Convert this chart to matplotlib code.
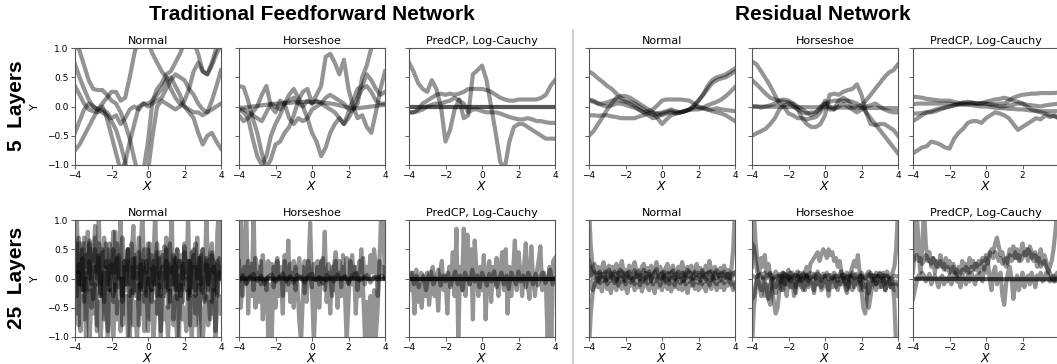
import numpy as np
import matplotlib
matplotlib.use('Agg')
import matplotlib.pyplot as plt
from matplotlib.lines import Line2D

# ---- prior function samples (x runs -4..4, evenly spaced) ----

# Traditional feedforward, 5 layers
ffn5_a = [0.72, 0.5, 0.3, 0.12, 0.0, -0.05, -0.1, -0.15, -0.25, -0.4, -0.65, -0.95, -1.3, -1.5, -1.4, -1.1, -0.6,
          0.1, 0.3, 0.4, 0.55, 0.6, 0.75, 0.9, 1.1, 1.2, 1.1, 0.9, 0.6, 0.55, 0.75, 1.0, 1.2]
ffn5_b = [0.35, 0.2, 0.05, -0.05, -0.08, -0.1, -0.05, -0.1, -0.2, -0.15, -0.3, -0.2, -0.05, 0.0, -0.05, 0.05, 0.05,
          0.1, 0.2, 0.3, 0.45, 0.5, 0.35, 0.2, 0.0, -0.1, -0.2, -0.45, -0.65, -0.5, -0.45, -0.6, -0.72]
ffn5_c = [-0.75, -0.65, -0.5, -0.35, -0.2, -0.05, 0.05, 0.15, 0.25, 0.25, 0.1, 0.15, 0.5, 0.9, 1.2, 1.3, 1.1,
          0.9, 0.75, 0.6, 0.5, 0.3, 0.15, 0.05, 0.0, -0.05, -0.1, -0.1, -0.15, -0.1, 0.1, 0.35, 0.62]
ffn5_d = [1.1, 0.95, 0.7, 0.45, 0.3, 0.28, 0.28, 0.2, 0.1, 0.05, -0.1, -0.3, -0.55, -0.9, -1.2, -1.3, -1.1,
          -0.5, 0.0, 0.1, 0.05, 0.0, -0.05, 0.0, 0.1, 0.3, 0.6, 0.75, 0.6, 0.55, 0.7, 0.9, 1.05]
ffn5_e = [-0.45, -0.25, -0.05, 0.05, 0.0, -0.05, 0.0, -0.2, -0.5, -0.8, -1.1, -0.95, -0.6, -0.3, 0.0, 0.05, 0.0,
          0.05, 0.1, 0.15, 0.3, 0.45, 0.55, 0.5, 0.45, 0.3, 0.2, 0.05, -0.05, -0.1, -0.05, 0.0, 0.05]

ffh5_a = [-0.02, -0.02, -0.01, 0.0, 0.01, 0.02, 0.03, 0.04, 0.05, 0.05, 0.06, 0.06, 0.07, 0.07, 0.08, 0.08, 0.08,
          0.08, 0.07, 0.06, 0.05, 0.04, 0.02, 0.0, -0.02, -0.03, -0.03, -0.02, -0.01, 0.0, 0.01, 0.02, 0.03]
ffh5_b = [0.35, 0.33, 0.1, -0.2, -0.45, -0.8, -1.05, -0.9, -0.65, -0.6, -0.45, -0.35, -0.15, 0.1, 0.25, 0.3, 0.05,
          0.2, 0.35, 0.85, 0.9, 0.75, 0.55, 0.8, 0.3, 0.0, -0.2, -0.15, -0.35, -0.45, -0.1, 0.3, 0.6]
ffh5_c = [-0.15, -0.25, -0.2, -0.1, 0.0, 0.2, 0.35, 0.0, -0.1, 0.1, 0.05, -0.2, -0.3, -0.2, -0.25, -0.2, -0.05,
          0.0, 0.05, 0.15, 0.2, 0.15, 0.1, 0.05, -0.05, 0.1, 0.3, 0.35, 0.55, 0.45, 0.3, 0.2, 0.25]
ffh5_d = [-0.05, -0.1, -0.2, -0.55, -0.85, -1.0, -0.85, -0.5, -0.3, -0.15, 0.05, 0.2, 0.3, 0.15, 0.0, -0.2, -0.45,
          -0.6, -0.85, -0.7, -0.45, -0.3, -0.2, -0.3, -0.2, -0.05, 0.05, 0.5, 0.7, 1.0, 1.2, 1.2, 1.2]
ffh5_e = [-0.05, -0.05, -0.1, -0.15, -0.2, -0.25, -0.1, 0.05, 0.0, -0.05, 0.05, 0.1, 0.15, 0.05, 0.0, 0.1, 0.05,
          0.1, 0.05, 0.0, -0.05, -0.1, -0.2, -0.3, -0.1, -0.05, 0.15, 0.3, 0.35, 0.25, 0.1, 0.05, 0.05]

ffp5_a = [0.75, 0.6, 0.4, 0.3, 0.25, 0.45, 0.3, 0.0, -0.6, -0.4, -0.05, 0.12, -0.2, -0.15, 0.55, 0.62, 0.7,
          0.45, 0.0, -0.45, -0.95, -1.05, -0.6, -0.35, -0.3, -0.3, -0.35, -0.4, -0.45, -0.5, -0.55, -0.55, -0.55]
ffp5_b = [-0.1, -0.1, -0.05, 0.05, 0.1, 0.15, 0.2, 0.22, 0.2, 0.22, 0.2, 0.22, 0.25, 0.3, 0.3, 0.3, 0.3,
          0.28, 0.25, 0.2, 0.15, 0.12, 0.1, 0.1, 0.12, 0.12, 0.12, 0.12, 0.12, 0.15, 0.2, 0.35, 0.45]
ffp5_c = [-0.1, -0.1, -0.08, -0.05, 0.0, 0.03, 0.05, 0.05, 0.08, 0.1, 0.15, 0.1, 0.05, -0.1, -0.05, -0.05, -0.08,
          -0.1, -0.1, -0.1, -0.12, -0.15, -0.18, -0.2, -0.22, -0.22, -0.2, -0.22, -0.25, -0.25, -0.27, -0.28, -0.28]
ffp5_d = [0.0, 0.0]
ffp5_e = [0.0, 0.0]

# Residual network, 5 layers
rn5_a = [0.6, 0.55, 0.48, 0.42, 0.35, 0.3, 0.22, 0.15, 0.1, 0.08, 0.05, 0.0, -0.05, -0.1, -0.15, -0.12, -0.1,
         -0.08, -0.05, -0.08, -0.1, -0.08, -0.05, 0.02, 0.1, 0.2, 0.3, 0.4, 0.45, 0.48, 0.5, 0.55, 0.6]
rn5_b = [-0.5, -0.42, -0.3, -0.18, -0.05, 0.05, 0.15, 0.18, 0.18, 0.15, 0.1, 0.05, 0.0, -0.05, -0.1, -0.12, -0.15,
         -0.12, -0.1, -0.12, -0.1, -0.08, -0.05, 0.0, 0.1, 0.2, 0.35, 0.45, 0.5, 0.52, 0.55, 0.6, 0.65]
rn5_c = [-0.15, -0.15, -0.16, -0.15, -0.15, -0.17, -0.18, -0.2, -0.2, -0.2, -0.2, -0.17, -0.15, -0.12, -0.1, -0.2,
         -0.3, -0.22, -0.15, -0.12, -0.1, -0.08, -0.06, -0.05, -0.05, -0.02, 0.02, 0.05, 0.08, 0.12, 0.18, 0.25, 0.33]
rn5_d = [0.12, 0.1, 0.05, 0.02, 0.0, 0.02, 0.05, 0.05, 0.03, 0.0, -0.02, -0.06, -0.1, -0.08, -0.05, 0.02, 0.1,
         0.12, 0.12, 0.12, 0.12, 0.11, 0.1, 0.05, -0.02, -0.04, -0.05, -0.08, -0.1, -0.12, -0.15, -0.2, -0.25]
rn5_e = [0.1, 0.08, 0.05, 0.05, 0.07, 0.1, 0.12, 0.1, 0.08, 0.05, 0.0, -0.05, -0.1, -0.15, -0.2, -0.18, -0.12,
         -0.1, -0.08, -0.1, -0.1, -0.08, -0.05, -0.02, 0.0, -0.02, -0.05, -0.05, -0.03, -0.05, -0.06, -0.07, -0.08]

rh5_a = [0.77, 0.72, 0.6, 0.48, 0.35, 0.2, 0.05, 0.0, -0.12, -0.15, -0.2, -0.2, -0.22, -0.2, -0.18, -0.1, 0.05,
         -0.05, -0.05, 0.1, 0.15, 0.1, 0.0, 0.0, 0.02, 0.1, 0.2, 0.3, 0.4, 0.5, 0.58, 0.62, 0.72]
rh5_b = [0.45, 0.38, 0.3, 0.22, 0.15, 0.12, 0.1, 0.08, 0.07, 0.0, -0.05, -0.1, -0.12, -0.1, -0.1, 0.0, 0.05,
         0.08, 0.1, 0.1, 0.1, 0.1, 0.08, 0.05, 0.0, -0.1, -0.2, -0.3, -0.4, -0.5, -0.6, -0.7, -0.8]
rh5_c = [0.0, -0.03]
rh5_d = [-0.5, -0.46, -0.42, -0.38, -0.3, -0.2, -0.05, 0.02, 0.05, 0.05, -0.05, -0.2, -0.3, -0.35, -0.35, -0.3,
         -0.15, 0.2, 0.22, 0.2, 0.25, 0.28, 0.3, 0.38, 0.2, -0.1, -0.3, -0.32, -0.3, -0.3, -0.35, -0.4, -0.5]
rh5_e = [0.0, 0.0, -0.02, 0.0, 0.02, 0.05, 0.1, 0.12, 0.1, 0.05, 0.0, -0.05, -0.1, -0.15, -0.1, -0.05, 0.1,
         0.0, -0.05, 0.0, 0.05, 0.0, -0.05, -0.1, -0.05, 0.0, 0.02, 0.05, 0.0, -0.05, -0.08, -0.1, -0.1]

rp5_a = [-0.8, -0.75, -0.7, -0.68, -0.6, -0.62, -0.65, -0.7, -0.72, -0.55, -0.45, -0.38, -0.28, -0.25, -0.25, -0.28,
         -0.2, -0.15, -0.1, -0.12, -0.15, -0.2, -0.3, -0.4, -0.35, -0.3, -0.25, -0.2, -0.22, -0.15, -0.18, -0.15, -0.2]
rp5_b = [0.17, 0.16, 0.15, 0.13, 0.12, 0.11, 0.1, 0.1, 0.1, 0.08, 0.06, 0.05, 0.05, 0.06, 0.05, 0.05, 0.05,
         0.04, 0.04, 0.05, 0.05, 0.1, 0.15, 0.18, 0.2, 0.21, 0.22, 0.22, 0.23, 0.23, 0.23, 0.23, 0.24]
rp5_c = [0.04, 0.05, 0.05, 0.05, 0.05, 0.05, 0.05, 0.05, 0.05, 0.04, 0.04, 0.03, 0.03, 0.02, 0.01, 0.0, 0.0,
         -0.01, -0.02, -0.03, -0.03, -0.04, -0.04, -0.05, -0.05, -0.06, -0.07, -0.07, -0.08, -0.08, -0.08, -0.08, -0.08]
rp5_d = [-0.25, -0.2, -0.15, -0.1, -0.08, -0.05, -0.03, -0.02, 0.0, 0.02, 0.03, 0.05, 0.05, 0.05, 0.05, 0.05, 0.05,
         0.03, 0.02, 0.0, 0.0, 0.02, 0.03, 0.05, 0.05, 0.0, -0.05, -0.08, -0.1, -0.12, -0.15, -0.17, -0.2]
rp5_e = [-0.12, -0.12, -0.11, -0.1, -0.1, -0.08, -0.05, -0.02, 0.0, 0.02, 0.05, 0.07, 0.08, 0.07, 0.05, 0.06, 0.08,
         0.1, 0.12, 0.13, 0.15, 0.13, 0.1, 0.08, 0.05, 0.03, 0.02, 0.01, 0.0, 0.02, 0.03, 0.04, 0.05]

# Traditional feedforward, 25 layers
ffn25_a = [0.3, 1.2, -0.8, 0.6, -0.2, 0.7, -1.1, 0.2, 0.65, -0.5, 0.1, 0.7, -0.9, 1.2, -0.3, 0.5, -0.7, 0.2, -1.1,
           0.6, 0.3, -0.4, 0.8, -0.6, 0.1, 1.2, -0.8, 0.3, -0.2, 0.5, -1.1, 0.4, 0.9, -0.3, 0.2, -0.8, 0.5, 1.2,
           -0.4, 0.1, -0.9, 0.6, -0.2, 0.3, 1.2, -0.6, 0.1, -1.1, 0.4, -0.3, 0.7, -0.5, 0.2, 1.2, -0.7, 0.0, 0.5,
           -1.0, 0.3, -0.4, 0.6, -0.2, 1.2, -0.8, 0.1, 0.4, -0.6, 0.7, -1.1, 0.3, 0.5, -0.4, 1.2, -0.2, -0.7, 0.4,
           0.2, -1.1, 0.8, 1.2, 0.0]
ffn25_b = [0.2, 0.6, -0.1, 0.3, 0.5, -0.2, 0.4, 0.1, 0.6, -0.1, 0.3, 0.5, 0.0, 0.35, -0.3, 0.45, 0.2, 0.6, -0.1,
           0.3, 0.1, 0.5, -0.2, 0.25, 0.4, 0.05, -0.3, 0.3, 0.15, 0.5, -0.1, 0.2, -0.25, 0.35, 0.0, 0.45, -0.15,
           0.3, 0.1, -0.3, 0.5, 0.05, -0.2, 0.3, -0.1, 0.45, 0.1, -0.3, 0.2, 0.0, 0.5, -0.2, 0.25, -0.1, 0.4, 0.05,
           -0.35, 0.3, 0.1, -0.2, 0.45, 0.0, 0.3, -0.3, 0.1, 0.5, -0.2, 0.2, 0.0, 0.4, -0.25, 0.15, 0.35, -0.1, 0.2,
           0.45, -0.2, 0.1, 0.3, 0.0, 0.2]
ffn25_c = [-0.2, -0.6, 0.1, -0.9, -0.3, -0.7, 0.0, -0.5, -1.1, -0.2, -0.6, -0.1, -0.8, -0.4, -1.1, -0.3, 0.1, -0.6,
           -0.9, -0.2, -0.5, -1.1, -0.1, -0.7, -0.4, -0.9, 0.0, -0.6, -0.3, -1.0, -0.5, -0.2, -0.8, -0.4, -1.1,
           -0.1, -0.6, -0.3, -0.9, -0.5, 0.0, -0.7, -0.2, -1.1, -0.4, -0.6, -0.1, -0.9, -0.3, -0.7, -0.5, -1.0,
           -0.2, -0.6, -0.8, -0.3, -1.1, -0.4, -0.1, -0.7, -0.5, -0.9, -0.2, -0.6, -1.0, -0.3, -0.8, -0.4, -0.1,
           -0.7, -1.1, -0.5, -0.3, -0.8, -0.4, -0.6, -0.2, -0.9, -0.5, -0.3, -0.6]
ffn25_d = [0.0, -0.3, 0.25, -0.1, 0.35, -0.4, 0.1, -0.2, 0.3, 0.0, -0.35, 0.2, -0.1, 0.4, -0.25, 0.05, -0.4, 0.3,
           0.0, -0.2, 0.25, -0.3, 0.1, 0.35, -0.15, 0.0, -0.4, 0.2, -0.1, 0.3, -0.3, 0.05, 0.35, -0.2, 0.1, -0.35,
           0.25, 0.0, -0.25, 0.3, -0.1, 0.15, -0.4, 0.2, 0.0, -0.3, 0.35, -0.15, 0.1, -0.25, 0.3, 0.0, -0.4, 0.2,
           -0.1, 0.35, -0.2, 0.05, -0.3, 0.25, -0.1, 0.0, -0.35, 0.3, -0.15, 0.2, -0.3, 0.05, 0.35, -0.2, 0.0,
           -0.35, 0.25, -0.1, 0.15, -0.4, 0.2, 0.0, -0.25, 0.1, 0.0]
ffn25_e = [0.5, 0.1, 0.7, 0.3, -0.2, 0.6, 0.2, 0.8, 0.0, 0.5, 0.3, 0.9, 0.1, 0.6, -0.1, 0.4, 0.7, 0.2, 0.5, -0.2,
           0.3, 0.8, 0.1, 0.6, 0.0, 0.4, 0.7, 0.2, -0.1, 0.5, 0.3, 0.6, 0.0, 0.4, 0.2, 0.7, -0.2, 0.3, 0.5, 0.1,
           0.6, 0.2, 0.4, -0.1, 0.3, 0.6, 0.0, 0.45, 0.2, 0.55, -0.15, 0.35, 0.6, 0.1, 0.3, -0.2, 0.5, 0.2, 0.4,
           0.0, 0.55, 0.1, 0.3, -0.25, 0.45, 0.2, 0.6, 0.0, 0.35, -0.1, 0.5, 0.15, 0.3, -0.2, 0.4, 0.6, 0.1, 0.25,
           -0.3, 0.35, 0.1]

ffh25_a = [-0.2, 1.2, -0.3, 0.4, 1.2, -0.6, 0.2, -0.3, 1.2, -0.5, 0.1, -0.4, 0.3, -0.7, -0.2, 0.0, -1.0, -0.1,
           -1.0, 0.2, -0.5, 0.3, -0.3, 0.0, -0.6, 0.4, -0.2, 0.65, -0.4, 0.1, -0.5, 0.2, -0.1, -0.7, -1.1, -0.3,
           0.3, -0.4, 0.1, 0.95, -0.2, -1.1, -0.3, 0.2, -0.5, 0.3, 0.0, 0.8, -0.4, 0.1, -0.6, 0.2, -0.2, 0.3, -0.5,
           0.1, -0.3, 0.4, -0.2, -1.1, -0.4, 0.3, -0.1, 0.2, -0.6, 0.1, -0.3, 0.5, -0.2, -1.0, -0.4, -1.0, -0.3,
           -1.0, -0.2, -1.0, -0.5, 0.3, 1.2, 0.9, 0.0]
ffh25_b = [0.3, -0.5, 0.1, 0.2, -0.1, 0.3, 0.05, 0.25, -0.2, 0.35, 0.1, 0.2, -0.1, 0.4, 0.15, -0.2, 0.3, 0.1, 0.25,
           -0.15, 0.2, 0.35, 0.0, 0.2, -0.3, 0.3, 0.1, -0.1, 0.25, 0.05, 0.3, -0.2, 0.15, 0.35, 0.0, 0.2, -0.25,
           0.1, 0.3, 0.05, -0.15, 0.25, 0.0, 0.3, -0.1, 0.2, 0.35, -0.2, 0.1, 0.25, 0.0, -0.3, 0.2, 0.45, 0.05,
           0.3, -0.15, 0.2, 0.0, 0.35, -0.1, 0.25, 0.4, 0.0, 0.2, -0.2, 0.3, 0.1, 0.35, -0.1, 0.2, 0.0, 0.4, 0.1,
           0.5, 0.2, -0.3, 0.3, 0.1, 0.2, 0.0]
ffh25_c = [0.0, 0.02, -0.01, 0.03, -0.02, 0.01, 0.0, -0.03, 0.02, 0.0, -0.02, 0.03, 0.01, -0.01, 0.02, -0.02, 0.0,
           0.03, -0.01, 0.01, 0.0, -0.02, 0.02, 0.0, -0.03, 0.01, 0.02, -0.01, 0.0, 0.03, -0.02, 0.01, 0.0, -0.01,
           0.02, 0.0, -0.02, 0.01, 0.03, -0.01, 0.0]
ffh25_d = [-0.05, 0.06, -0.08, 0.02, 0.08, -0.04, 0.05, -0.1, 0.03, 0.07, -0.06, 0.0, 0.09, -0.05, 0.04, -0.08,
           0.06, 0.0, -0.07, 0.05, 0.08, -0.03, 0.02, -0.09, 0.06, 0.0, -0.05, 0.07, -0.02, 0.04, -0.08, 0.05,
           0.09, -0.04, 0.0, 0.06, -0.07, 0.03, -0.02, 0.05, 0.0]
ffh25_e = [0.0, 0.0]

ffp25_a = [0.0, -0.2, 0.1, -0.6, 0.15, -0.4, -0.1, -0.5, 0.05, -0.3, 0.1, -0.45, -0.1, 0.2, -0.3, 0.0, -0.55, 0.1,
           0.3, -0.2, 0.05, -0.6, 0.2, -0.1, 0.45, -0.3, 0.85, -1.1, 0.2, -0.2, 0.85, -0.3, 0.75, -0.1, 0.5, -0.7,
           0.65, 0.1, -0.3, 0.2, -0.2, 0.4, -0.7, 0.1, 0.3, -0.4, 0.2, -0.1, 0.35, -0.3, 0.1, 0.45, -0.2, 0.5,
           -0.6, 0.2, -0.3, 0.1, 0.65, -0.2, 0.45, 0.1, -0.3, 0.2, 0.6, -0.1, -0.35, 0.55, 0.0, -0.3, 0.1, 0.3,
           0.55, -0.2, 0.1, -0.1, -1.1, 0.2, -1.1, 0.3, 0.35]
ffp25_b = [0.0, 0.1, -0.1, 0.05, -0.15, 0.1, 0.0, -0.2, 0.05, 0.12, -0.1, 0.0, 0.15, -0.12, 0.05, -0.05, 0.1,
           -0.15, 0.0, 0.12, -0.1, 0.05, -0.2, 0.1, 0.0, -0.1, 0.15, -0.05, 0.05, -0.15, 0.1, 0.0, -0.12, 0.08,
           -0.05, 0.12, -0.15, 0.0, 0.1, -0.1, 0.05, -0.18, 0.1, 0.0, -0.1, 0.12, -0.05, 0.05, -0.15, 0.1, 0.0,
           -0.1, 0.08, -0.12, 0.05, 0.1, -0.08, 0.0, 0.15, -0.1, 0.0]
ffp25_c = [0.0, 0.0]
ffp25_d = [0.0, 0.0]
ffp25_e = [0.0, 0.0]

# Residual network, 25 layers
rn25_a = [1.2, 0.55, 0.2, 0.1, 0.05, 0.1, 0.0, 0.08, 0.03, 0.12, -0.02, 0.06, 0.1, 0.0, 0.08, -0.05, 0.1, 0.04,
          0.12, -0.02, 0.05, 0.1, 0.0, 0.07, -0.04, 0.09, 0.03, 0.12, 0.0, 0.06, -0.03, 0.1, 0.02, 0.08, -0.05,
          0.07, 0.12, 0.0, 0.05, -0.02, 0.1, 0.04, -0.04, 0.08, 0.0, 0.11, 0.03, -0.03, 0.09, 0.02, 0.06, -0.05,
          0.1, 0.0, 0.07, 0.12, -0.02, 0.05, 0.09, 0.0, 0.06, -0.04, 0.1, 0.02, 0.08, 0.0, 0.12, -0.03, 0.05, 0.1,
          0.0, 0.07, -0.02, 0.09, 0.03, 0.0, 0.08, 0.02, 0.15, 0.5, 1.2]
rn25_b = [-1.2, -0.6, -0.25, -0.1, -0.05, 0.0, -0.08, 0.02, -0.05, 0.03, -0.1, 0.0, -0.04, 0.05, -0.08, 0.0,
          -0.12, 0.02, -0.05, 0.04, -0.1, -0.02, 0.03, -0.07, 0.0, -0.1, 0.05, -0.04, -0.12, 0.0, -0.06, 0.03,
          -0.09, -0.02, 0.04, -0.1, 0.0, -0.05, 0.02, -0.12, -0.03, 0.05, -0.07, 0.0, -0.1, 0.02, -0.05, -0.12,
          0.0, 0.03, -0.08, -0.02, 0.05, -0.1, 0.0, -0.06, 0.02, -0.12, -0.04, 0.03, -0.08, 0.0, -0.1, 0.04,
          -0.05, -0.02, -0.12, 0.0, 0.03, -0.07, -0.1, 0.0, -0.04, 0.02, -0.08, -0.03, 0.0, -0.06, -0.1, -0.05, -0.15]
rn25_c = [0.2, 0.05, 0.15, 0.25, 0.1, 0.2, 0.05, 0.18, 0.28, 0.1, 0.15, 0.22, 0.05, 0.2, 0.12, 0.25, 0.08, 0.18,
          0.3, 0.1, 0.15, 0.05, 0.22, 0.12, 0.2, 0.28, 0.1, 0.15, 0.05, 0.2, 0.25, 0.12, 0.18, 0.05, 0.22, 0.1,
          0.15, 0.28, 0.08, 0.2, 0.12, 0.05, 0.18, 0.25, 0.1, 0.15, 0.22, 0.05, 0.12, 0.2, 0.1, 0.28, 0.15, 0.05,
          0.2, 0.12, 0.22, 0.08, 0.15, 0.25, 0.1, 0.18, 0.05, 0.12, 0.22, 0.1, 0.3, 0.15, 0.08, 0.2, 0.12, 0.05,
          0.18, 0.1, 0.22, 0.05, 0.15, 0.1, 0.0, 0.05, 0.1]
rn25_d = [-0.15, -0.05, -0.2, -0.1, 0.0, -0.15, -0.05, -0.22, -0.1, -0.02, -0.18, -0.08, -0.25, -0.05, -0.12,
          -0.2, 0.0, -0.1, -0.18, -0.05, -0.15, -0.25, -0.08, -0.12, 0.0, -0.2, -0.1, -0.15, -0.05, -0.22, -0.1,
          -0.02, -0.15, -0.2, -0.08, -0.12, -0.25, -0.05, -0.15, -0.1, -0.2, 0.0, -0.12, -0.18, -0.05, -0.22,
          -0.1, -0.15, -0.02, -0.18, -0.1, -0.2, -0.05, -0.15, -0.25, -0.08, -0.12, -0.02, -0.18, -0.1, -0.2,
          -0.05, -0.15, -0.1, -0.22, -0.05, -0.12, -0.18, 0.0, -0.1, -0.2, -0.08, -0.15, -0.05, -0.2, -0.1,
          -0.12, -0.02, -0.1, -0.2, -0.1]
rn25_e = [0.3, 0.15, 0.0, 0.1, 0.05, -0.05, 0.12, 0.02, 0.08, -0.04, 0.1, 0.15, 0.0, 0.06, 0.12, -0.02, 0.08,
          0.15, 0.03, 0.1, -0.05, 0.07, 0.12, 0.0, 0.09, 0.14, 0.02, 0.06, -0.03, 0.1, 0.15, 0.0, 0.08, 0.12,
          -0.02, 0.05, 0.1, 0.16, 0.02, 0.08, 0.0, 0.12, 0.05, 0.1, -0.03, 0.08, 0.14, 0.0, 0.06, 0.12, 0.02, 0.1,
          -0.04, 0.07, 0.15, 0.03, 0.09, 0.0, 0.12, 0.06, 0.1, 0.02, 0.14, 0.05, -0.02, 0.1, 0.06, 0.12, 0.0,
          0.08, 0.14, 0.03, 0.1, 0.05, 0.12, 0.02, 0.08, 0.0, 0.05, 0.1, 0.08]

rh25_a = [0.2, 1.2, 0.6, 0.3, 0.1, 0.35, 0.2, 0.4, 0.1, 0.25, 0.05, -0.2, -0.4, -0.6, -0.5, -0.2, 0.0, 0.1, -0.1,
          0.05, 0.15, -0.05, 0.1, 0.0, -0.15, 0.05, 0.1, -0.05, 0.0, 0.1, 0.2, 0.05, 0.25, 0.3, 0.35, 0.4, 0.45,
          0.3, 0.4, 0.5, 0.45, 0.35, 0.5, 0.4, 0.45, 0.3, 0.35, 0.2, 0.3, 0.1, 0.0, -0.1, 0.05, -0.15, 0.1, 0.2,
          0.3, 0.2, 0.4, 0.1, -0.2, -0.5, -0.6, -0.3, 0.0, 0.1, -0.05, 0.05, -0.1, 0.0, 0.1, -0.05, 0.05, -0.2,
          -0.1, 0.0, -0.15, -0.05, -0.4, -1.2, -1.2]
rh25_b = [0.6, 0.55, 0.3, 0.1, 0.05, 0.08, 0.02, 0.1, 0.0, 0.06, 0.1, -0.02, 0.05, 0.12, 0.0, 0.08, -0.05, 0.1,
          0.03, 0.07, -0.02, 0.1, 0.05, 0.0, 0.08, 0.12, -0.03, 0.05, 0.1, 0.0, 0.07, -0.05, 0.1, 0.03, 0.08, 0.0,
          0.12, 0.02, -0.04, 0.08, 0.05, 0.1, -0.02, 0.06, 0.0, 0.1, 0.04, -0.05, 0.08, 0.12, 0.0, 0.06, 0.1,
          -0.03, 0.05, 0.1, 0.0, 0.08, 0.03, -0.05, 0.1, 0.05, 0.0, 0.08, 0.12, 0.02, 0.06, -0.03, 0.1, 0.04, 0.08,
          0.0, 0.1, 0.05, 0.12, 0.02, 0.05, 0.1, 0.2, 0.5, 1.2]
rh25_c = [-1.2, -0.5, -0.2, 0.0, -0.1, -0.3, -0.15, -0.05, -0.2, -0.35, -0.1, 0.0, -0.15, -0.25, -0.05, -0.1,
          -0.2, 0.05, -0.1, -0.3, -0.05, 0.0, -0.15, -0.1, -0.25, -0.05, -0.1, 0.0, -0.2, -0.1, 0.05, -0.15,
          -0.05, -0.1, -0.25, 0.0, -0.1, -0.05, -0.2, -0.15, 0.0, -0.1, -0.3, -0.05, -0.15, 0.0, -0.1, -0.2,
          -0.05, -0.1, 0.0, -0.15, -0.25, -0.05, -0.1, -0.2, 0.0, -0.1, -0.05, -0.2, -0.1, 0.0, -0.15, -0.05,
          -0.25, -0.1, 0.0, -0.1, -0.2, -0.05, -0.15, -0.1, 0.0, -0.2, -0.1, -0.05, -0.15, -0.1, -0.2, -0.1, -0.3]
rh25_d = [-0.35, -0.3, -0.1, 0.05, -0.1, -0.2, 0.0, -0.3, -0.1, -0.35, -0.45, -0.2, 0.0, -0.15, -0.05, 0.05,
          -0.1, -0.2, 0.0, -0.1, 0.05, -0.15, 0.0, -0.3, -0.1, 0.05, -0.05, -0.15, 0.0, -0.2, 0.05, -0.1, -0.05,
          0.0, -0.2, 0.05, -0.1, 0.0, -0.15, -0.05, 0.05, -0.1, -0.2, 0.0, -0.05, 0.05, -0.15, 0.0, -0.1, 0.05,
          -0.05, 0.0, -0.2, -0.1, 0.05, 0.0, -0.15, -0.05, 0.0, -0.1, 0.05, -0.2, -0.1, -0.35, -0.5, -0.3, -0.1,
          0.0, -0.1, 0.05, -0.05, -0.15, 0.0, -0.1, 0.05, -0.05, -0.1, 0.0, -0.1, -0.05, -0.1]
rh25_e = [0.05, 0.02, 0.06, 0.0, 0.04, 0.07, 0.01, 0.05, 0.03, 0.08, 0.0, 0.04, 0.06, 0.02, 0.07, 0.03, 0.0,
          0.05, 0.08, 0.02, 0.04, 0.06, 0.0, 0.05, 0.03, 0.07, 0.01, 0.04, 0.06, 0.02, 0.05, 0.0, 0.07, 0.03,
          0.05, 0.02, 0.06, 0.04, 0.0, 0.05, 0.03]

rp25_a = [0.1, 0.5, 1.2, 0.6, 0.1, 0.5, 1.2, 0.6, 0.3, 0.45, 0.2, 0.35, 0.1, 0.3, 0.2, 0.4, 0.25, 0.15, 0.35, 0.2,
          0.3, 0.1, 0.25, 0.15, 0.05, 0.2, 0.1, 0.3, 0.15, 0.25, 0.1, 0.35, 0.2, 0.3, 0.15, 0.25, 0.1, 0.2, 0.3,
          0.15, 0.35, 0.25, 0.4, 0.5, 0.45, 0.6, 0.7, 0.55, 0.4, 0.45, 0.3, 0.2, 0.35, 0.5, 0.4, 0.55, 0.35, 0.5,
          0.3, 0.45, 0.6, 0.4, 0.5, 0.3, 0.55, 0.45, 0.3, 0.4, 0.2, 0.35, 0.5, 0.25, 0.4, 0.3, 0.1, 0.2, 0.3, 0.5,
          0.8, 1.2, 1.2]
rp25_b = [0.3, 0.35, 0.4, 0.3, 0.35, 0.25, 0.3, 0.4, 0.35, 0.3, 0.25, 0.35, 0.3, 0.2, 0.25, 0.3, 0.2, 0.25, 0.15,
          0.2, 0.1, 0.15, 0.2, 0.1, 0.15, 0.05, 0.1, 0.15, 0.1, 0.2, 0.15, 0.1, 0.2, 0.15, 0.25, 0.2, 0.3, 0.25,
          0.35, 0.3, 0.4, 0.35, 0.45, 0.4, 0.35, 0.45, 0.4, 0.3, 0.35, 0.25, 0.3, 0.35, 0.25, 0.4, 0.3, 0.35, 0.45,
          0.35, 0.4, 0.3, 0.35, 0.45, 0.4, 0.5, 0.45, 0.35, 0.4, 0.45, 0.3, 0.35, 0.2, 0.25, 0.3, 0.2, 0.15, 0.1,
          0.0, -0.05, 0.05, 0.1, 0.0]
rp25_c = [-0.35, -0.2, -0.05, 0.05, 0.0, 0.1, 0.05, -0.05, 0.0, 0.08, -0.1, 0.0, 0.05, -0.05, -0.15, 0.0, 0.05,
          -0.1, 0.0, -0.05, 0.05, -0.1, 0.0, 0.1, -0.05, 0.0, -0.15, 0.05, 0.0, -0.1, 0.05, -0.05, 0.1, 0.0, -0.1,
          0.05, 0.0, 0.1, -0.05, 0.2, 0.1, 0.3, 0.0, -0.2, 0.1, 0.2, -0.1, 0.05, 0.1, -0.3, -0.45, -0.1, 0.1, 0.2,
          0.0, -0.35, -0.1, 0.05, -0.2, -0.05, 0.1, -0.15, 0.0, 0.05, -0.1, 0.1, 0.0, -0.15, 0.05, 0.0, 0.1, -0.05,
          0.0, 0.1, 0.05, -0.05, 0.0, 0.05, -0.05, 0.0, 0.05]
rp25_d = [0.0, 0.0]
rp25_e = [0.0, -0.02]

prior_names = ['Normal', 'Horseshoe', 'PredCP, Log-Cauchy']
y_ticks = [-1.0, -0.5, 0.0, 0.5, 1.0]
x_ticks = [-4, -2, 0, 2, 4]

panels = [
    [[ffn5_a, ffn5_b, ffn5_c, ffn5_d, ffn5_e],
     [ffh5_a, ffh5_b, ffh5_c, ffh5_d, ffh5_e],
     [ffp5_a, ffp5_b, ffp5_c, ffp5_d, ffp5_e],
     [rn5_a, rn5_b, rn5_c, rn5_d, rn5_e],
     [rh5_a, rh5_b, rh5_c, rh5_d, rh5_e],
     [rp5_a, rp5_b, rp5_c, rp5_d, rp5_e]],
    [[ffn25_a, ffn25_b, ffn25_c, ffn25_d, ffn25_e],
     [ffh25_a, ffh25_b, ffh25_c, ffh25_d, ffh25_e],
     [ffp25_a, ffp25_b, ffp25_c, ffp25_d, ffp25_e],
     [rn25_a, rn25_b, rn25_c, rn25_d, rn25_e],
     [rh25_a, rh25_b, rh25_c, rh25_d, rh25_e],
     [rp25_a, rp25_b, rp25_c, rp25_d, rp25_e]],
]

# ---- layout (pixels) ----
W, H = 1057, 364
col_left = [75, 239, 409, 589, 752, 913]
row_top = [48, 220]
ax_w, ax_h = 146, 117

fig = plt.figure(figsize=(W / 100, H / 100), dpi=100)

for r in range(2):
    for c in range(6):
        ax = fig.add_axes([col_left[c] / W, 1 - (row_top[r] + ax_h) / H, ax_w / W, ax_h / H])
        for ys in panels[r][c]:
            xs = np.linspace(-4, 4, len(ys))
            ax.plot(xs, ys, color='k', alpha=0.42, lw=3.0)
        ax.set_xlim(-4, 4)
        ax.set_ylim(-1, 1)
        ax.set_xticks(x_ticks)
        ax.set_yticks(y_ticks)
        ax.tick_params(labelsize=6.5, length=3, width=0.6, pad=1.5, color='#444444')
        for s in ax.spines.values():
            s.set_color('#555555')
            s.set_linewidth(0.8)
        if c != 0:
            ax.set_yticklabels([])
        else:
            ax.set_ylabel('Y', fontsize=8)
            ax.yaxis.set_label_coords(-0.24, 0.5)
        ax.set_xlabel('$X$', fontsize=9, labelpad=0)
        ax.set_title(prior_names[c % 3], fontsize=8, pad=3)

# divider between the two network types
fig.add_artist(Line2D([573 / W, 573 / W], [0, 1 - 30 / H], color='#d0d0d0', lw=1.5))

head = dict(ha='center', va='center', fontsize=15, fontweight='bold', family='Liberation Sans')
fig.text(312 / W, 1 - 14 / H, 'Traditional Feedforward Network', **head)
fig.text(823 / W, 1 - 14 / H, 'Residual Network', **head)
fig.text(17 / W, 1 - 106 / H, '5  Layers', rotation=90, **head)
fig.text(17 / W, 1 - 278 / H, '25  Layers', rotation=90, **head)

fig.savefig('out.png', dpi=100)
